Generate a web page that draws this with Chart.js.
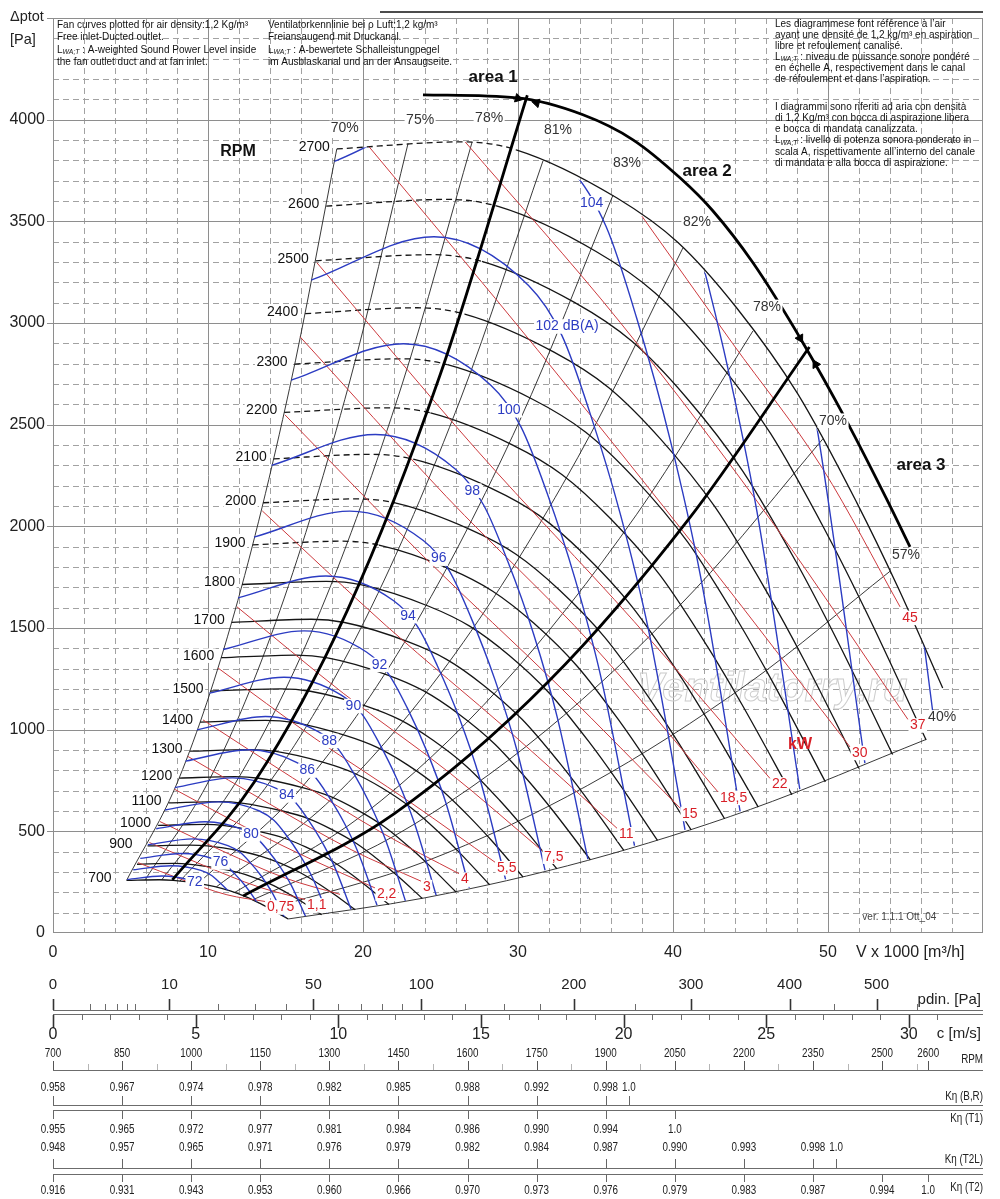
<!DOCTYPE html>
<html>
<head>
<meta charset="utf-8">
<title>Fan curves</title>
<script src="https://cdn.jsdelivr.net/npm/chart.js@4.4.1/dist/chart.umd.min.js"></script>
<style>
  html, body { margin: 0; padding: 0; background: #fff; }
  #wrapper-fan-chart { width: 1000px; height: 1199px; }
</style>
</head>
<body>
<div id="wrapper-fan-chart"><canvas id="fan-chart" width="1000" height="1199"></canvas></div>
<script>
// ---------------- axis ticks ----------------
const flowTickLabels = [0, 10, 20, 30, 40, 50];
const pressTickLabels = [0, 500, 1000, 1500, 2000, 2500, 3000, 3500, 4000];

// ---------------- fan curves: V x 1000 m3/h / dp Pa ----------------
const rpmSpeeds = [700, 800, 900, 1000, 1100, 1200, 1300, 1400, 1500, 1600, 1700,
  1800, 1900, 2000, 2100, 2200, 2300, 2400, 2500, 2600, 2700];
const rpmSpeedTags = [700, 900, 1000, 1100, 1200, 1300, 1400, 1500, 1600, 1700,
  1800, 1900, 2000, 2100, 2200, 2300, 2400, 2500, 2600, 2700];
const rpmFlow = [
  [4.75, 6.86, 7.75, 9.43, 10.45, 11.43, 12.46, 13.44, 14.14, 15.17],
  [5.42, 7.84, 8.85, 10.77, 11.95, 13.07, 14.24, 15.36, 16.16, 17.33],
  [6.10, 8.82, 9.96, 12.12, 13.44, 14.70, 16.02, 17.28, 18.18, 19.50],
  [6.78, 9.80, 11.07, 13.47, 14.93, 16.33, 17.80, 19.20, 20.20, 21.67],
  [7.46, 10.78, 12.17, 14.81, 16.43, 17.97, 19.58, 21.12, 22.22, 23.83],
  [8.14, 11.76, 13.28, 16.16, 17.92, 19.60, 21.36, 23.04, 24.24, 26.00],
  [8.81, 12.74, 14.39, 17.51, 19.41, 21.23, 23.14, 24.96, 26.26, 28.17],
  [9.49, 13.72, 15.49, 18.85, 20.91, 22.87, 24.92, 26.88, 28.28, 30.33],
  [10.17, 14.70, 16.60, 20.20, 22.40, 24.50, 26.70, 28.80, 30.30, 32.50],
  [10.85, 15.68, 17.71, 21.55, 23.89, 26.13, 28.48, 30.72, 32.32, 34.67],
  [11.53, 16.66, 18.81, 22.89, 25.39, 27.77, 30.26, 32.64, 34.34, 36.83],
  [12.20, 17.64, 19.92, 24.24, 26.88, 29.40, 32.04, 34.56, 36.36, 39.00],
  [12.88, 18.62, 21.03, 25.59, 28.37, 31.03, 33.82, 36.48, 38.38, 41.17],
  [13.56, 19.60, 22.13, 26.93, 29.87, 32.67, 35.60, 38.40, 40.40, 43.33],
  [14.24, 20.58, 23.24, 28.28, 31.36, 34.30, 37.38, 40.32, 42.42, 45.50],
  [14.92, 21.56, 24.35, 29.63, 32.85, 35.93, 39.16, 42.24, 44.44, 47.67],
  [15.59, 22.54, 25.45, 30.97, 34.35, 37.57, 40.94, 44.16, 46.46, 49.83],
  [16.27, 23.52, 26.56, 32.32, 35.84, 39.20, 42.72, 46.08, 48.48, 52.00],
  [16.95, 24.50, 27.67, 33.67, 37.33, 40.83, 44.50, 48.00, 50.50, 54.17],
  [17.63, 25.48, 28.77, 35.01, 38.83, 42.47, 46.28, 49.92, 52.52, 56.33],
  [18.31, 26.46, 29.88, 36.36, 40.32, 44.10, 48.06, 51.84, 54.54, 57.40],
];
const rpmPress = [
  [259, 262, 259, 243, 228, 207, 178, 142, 114, 69],
  [338, 342, 338, 317, 298, 270, 233, 186, 149, 90],
  [428, 432, 428, 402, 377, 342, 294, 235, 188, 114],
  [529, 534, 528, 496, 466, 422, 364, 291, 232, 140],
  [640, 646, 639, 600, 564, 510, 440, 352, 281, 170],
  [762, 769, 761, 714, 671, 607, 524, 419, 335, 202],
  [894, 902, 893, 838, 787, 713, 614, 491, 393, 237],
  [1037, 1046, 1036, 972, 913, 827, 713, 570, 456, 275],
  [1190, 1201, 1189, 1116, 1048, 949, 818, 654, 523, 316],
  [1354, 1367, 1353, 1270, 1192, 1080, 931, 744, 595, 360],
  [1528, 1543, 1527, 1433, 1346, 1219, 1051, 840, 672, 406],
  [1714, 1729, 1712, 1607, 1509, 1367, 1178, 942, 753, 455],
  [1909, 1927, 1908, 1791, 1681, 1523, 1312, 1049, 839, 507],
  [2116, 2135, 2114, 1984, 1863, 1687, 1454, 1163, 930, 562],
  [2332, 2354, 2330, 2187, 2054, 1860, 1603, 1282, 1025, 619],
  [2560, 2583, 2558, 2401, 2254, 2041, 1760, 1407, 1125, 680],
  [2798, 2824, 2795, 2624, 2464, 2231, 1923, 1538, 1230, 743],
  [3046, 3075, 3044, 2857, 2683, 2429, 2094, 1674, 1339, 809],
  [3306, 3336, 3303, 3100, 2911, 2636, 2272, 1817, 1453, 878],
  [3575, 3608, 3572, 3353, 3149, 2851, 2458, 1965, 1571, 949],
  [3856, 3891, 3852, 3616, 3396, 3075, 2650, 2119, 1695, 1205],
];
const unstableFromRpm = 1900;

// ---------------- efficiency lines ----------------
const effLabels = ['70%', '75%', '78%', '81%', '83%', '82%', '78%', '70%', '57%', '40%'];
const effFlow = [
  [4.75, 8.14, 11.70, 15.26, 18.31],
  [5.94, 10.18, 14.64, 19.10, 22.91],
  [7.01, 12.02, 17.27, 22.53, 27.04],
  [8.19, 14.05, 20.19, 26.34, 31.61],
  [9.37, 16.06, 23.08, 30.11, 36.13],
  [10.54, 18.06, 25.97, 33.87, 40.64],
  [11.71, 20.07, 28.85, 37.64, 45.16],
  [12.88, 22.08, 31.74, 41.40, 49.68],
  [14.00, 24.00, 34.50, 45.00, 54.00],
  [15.17, 24.00, 34.50, 45.00, 56.33],
];
const effPress = [
  [259, 762, 1574, 2678, 3856],
  [261, 767, 1586, 2700, 3884],
  [261, 769, 1587, 2700, 3890],
  [255, 750, 1549, 2636, 3797],
  [244, 717, 1481, 2520, 3629],
  [227, 665, 1376, 2340, 3369],
  [199, 585, 1209, 2057, 2961],
  [163, 480, 992, 1688, 2431],
  [120, 351, 726, 1235, 1779],
  [69, 173, 357, 608, 952],
];

// ---------------- area boundaries ----------------
const areaLineFlow = [
  [7.7, 13, 19, 25, 30.6],
  [12.27, 22, 32, 41, 48.8],
];
const areaLinePress = [
  [261, 744, 1588, 2750, 4120],
  [182, 586, 1239, 2034, 2882],
];
const areaArcFlow = [23.87, 29.94, 34.19, 37.42, 40.45, 42.58, 45.16, 48.39, 51.23, 53.81, 55.29];
const areaArcPress = [4122, 4107, 4024, 3901, 3714, 3551, 3296, 2902, 2514, 2130, 1899];
const arrowFlow = [30.0, 31.2, 48.2, 49.2];
const arrowPress = [4105, 4083, 2925, 2797];

// ---------------- sound power LwA (dB(A)) ----------------
const blueLevels = [72, 74, 76, 78, 80, 82, 84, 86, 88, 90, 92, 94, 96, 98, 100, 102, 104, 106, 108, 110];
const blueTagged = [72, 76, 80, 84, 86, 88, 90, 92, 94, 96, 98, 100, 102, 104];
const blueFlow = [
  [4.77, 7.03, 8.78, 9.39, 9.91, 10.48, 11.00, 11.67],
  [5.18, 7.64, 9.54, 10.21, 10.77, 11.39, 11.95, 12.68],
  [5.63, 8.31, 10.37, 11.10, 11.71, 12.38, 12.99, 13.79],
  [6.12, 9.04, 11.28, 12.07, 12.73, 13.46, 14.13, 14.99],
  [6.66, 9.82, 12.26, 13.12, 13.84, 14.63, 15.36, 16.30],
  [7.23, 10.67, 13.32, 14.25, 15.04, 15.90, 16.69, 17.71],
  [7.86, 11.60, 14.48, 15.49, 16.35, 17.28, 18.14, 19.25],
  [8.55, 12.61, 15.74, 16.84, 17.77, 18.79, 19.72, 20.92],
  [9.29, 13.71, 17.11, 18.31, 19.32, 20.42, 21.44, 22.74],
  [10.10, 14.90, 18.60, 19.90, 21.00, 22.20, 23.30, 24.72],
  [10.98, 16.20, 20.22, 21.63, 22.83, 24.13, 25.33, 26.87],
  [11.93, 17.61, 21.98, 23.51, 24.81, 26.23, 27.53, 29.21],
  [12.97, 19.14, 23.89, 25.56, 26.97, 28.51, 29.93, 31.75],
  [14.10, 20.80, 25.97, 27.78, 29.32, 31.00, 32.53, 34.51],
  [15.33, 22.61, 28.23, 30.20, 31.87, 33.69, 35.36, 37.52],
  [16.66, 24.58, 30.68, 32.83, 34.64, 36.62, 38.44, 40.78],
  [18.11, 26.72, 33.35, 35.69, 37.66, 39.81, 41.78, 44.33],
  [19.69, 29.04, 36.26, 38.79, 40.93, 43.27, 45.42, 48.18],
  [21.40, 31.57, 39.41, 42.16, 44.49, 47.04, 49.37, 52.38],
  [23.26, 34.32, 42.84, 45.83, 48.37, 51.13, 53.66, 56.93],
];
const bluePress = [
  [263, 280, 261, 241, 209, 168, 121, 41],
  [311, 331, 308, 284, 247, 199, 143, 49],
  [367, 391, 364, 336, 292, 235, 170, 58],
  [434, 463, 430, 397, 346, 278, 200, 68],
  [513, 547, 508, 469, 408, 328, 237, 81],
  [605, 645, 600, 554, 482, 387, 280, 95],
  [715, 763, 709, 655, 570, 458, 330, 113],
  [845, 901, 838, 773, 673, 541, 390, 133],
  [999, 1065, 990, 914, 796, 639, 461, 157],
  [1180, 1258, 1170, 1080, 940, 755, 545, 186],
  [1394, 1486, 1382, 1276, 1111, 892, 644, 220],
  [1648, 1756, 1634, 1508, 1312, 1054, 761, 260],
  [1947, 2075, 1930, 1782, 1551, 1246, 899, 307],
  [2300, 2452, 2281, 2105, 1832, 1472, 1062, 363],
  [2718, 2898, 2695, 2488, 2165, 1739, 1255, 428],
  [3211, 3424, 3184, 2939, 2558, 2055, 1483, 506],
  [3794, 4045, 3762, 3473, 3023, 2428, 1753, 598],
  [4483, 4780, 4445, 4103, 3571, 2869, 2071, 707],
  [5297, 5648, 5253, 4848, 4220, 3389, 2447, 835],
  [6259, 6673, 6206, 5729, 4986, 4005, 2891, 987],
];

// ---------------- shaft power (kW) ----------------
const redLabels = ['0,75', '1,1', '', '2,2', '3', '4', '5,5', '7,5', '11', '15', '18,5', '22', '30', '37', '45'];
const redFlow = [
  [5.48, 8.35, 11.22, 13.68],
  [6.22, 9.73, 13.25, 16.26],
  [6.90, 10.97, 15.03, 18.52],
  [7.84, 12.37, 16.89, 20.77],
  [8.69, 13.96, 19.23, 23.74],
  [9.68, 15.46, 21.24, 26.19],
  [10.65, 16.90, 23.16, 28.52],
  [11.87, 18.76, 25.65, 31.55],
  [13.50, 21.51, 29.52, 36.39],
  [14.97, 23.89, 32.81, 40.45],
  [15.94, 25.38, 34.81, 42.90],
  [17.03, 27.26, 37.49, 46.26],
  [20.40, 31.26, 42.11, 51.42],
  [26.60, 36.60, 46.59, 55.16],
  [38.00, 43.83, 49.66, 54.65],
];
const redPress = [
  [346, 262, 188, 155],
  [445, 332, 227, 165],
  [548, 402, 269, 190],
  [707, 522, 354, 222],
  [869, 635, 410, 255],
  [1048, 763, 492, 292],
  [1303, 957, 637, 348],
  [1604, 1177, 784, 405],
  [2076, 1510, 986, 515],
  [2548, 1853, 1202, 615],
  [2932, 2146, 1416, 694],
  [3296, 2382, 1532, 760],
  [3866, 2868, 1834, 915],
  [3890, 3002, 2001, 1050],
  [3525, 2901, 2283, 1604],
];

// ---------------- side scales under the chart ----------------
const velocityAtRightEdge = 32.6;   // c [m/s] at V = 60
const rpmAtLeftEdge = 700;
const rpmAtRightEdge = 2719;
const pdinMajor = [0, 10, 50, 100, 200, 300, 400, 500];
const pdinMinor = [1, 2, 3, 4, 5, 20, 30, 40, 60, 70, 80, 90, 125, 150, 175, 250, 450, 550];
const velocityMajor = [0, 5, 10, 15, 20, 25, 30];
const rpmRowSpeeds = [700, 850, 1000, 1150, 1300, 1450, 1600, 1750, 1900, 2050, 2200, 2350, 2500, 2600];
const rpmRowMinor = [775, 925, 1075, 1225, 1375, 1525, 1675, 1825, 1975, 2125, 2275, 2425, 2575];
const kBRSpeeds = [700, 850, 1000, 1150, 1300, 1450, 1600, 1750, 1900, 1950];
const kBRValues = ['0.958', '0.967', '0.974', '0.978', '0.982', '0.985', '0.988', '0.992', '0.998', '1.0'];
const kT1Speeds = [700, 850, 1000, 1150, 1300, 1450, 1600, 1750, 1900, 2050];
const kT1Values = ['0.955', '0.965', '0.972', '0.977', '0.981', '0.984', '0.986', '0.990', '0.994', '1.0'];
const kT2LSpeeds = [700, 850, 1000, 1150, 1300, 1450, 1600, 1750, 1900, 2050, 2200, 2350, 2400];
const kT2LValues = ['0.948', '0.957', '0.965', '0.971', '0.976', '0.979', '0.982', '0.984', '0.987', '0.990', '0.993', '0.998', '1.0'];
const kT2Speeds = [700, 850, 1000, 1150, 1300, 1450, 1600, 1750, 1900, 2050, 2200, 2350, 2500, 2600];
const kT2Values = ['0.916', '0.931', '0.943', '0.953', '0.960', '0.966', '0.970', '0.973', '0.976', '0.979', '0.983', '0.987', '0.994', '1.0'];

// ---------------- styles ----------------
const SANS = '"Liberation Sans", Arial, Helvetica, sans-serif';
const BLUE = '#2c3cc2';
const RED_LINE = '#cc3a3e';
const RED_TEXT = '#d81f27';
const effTagOffset = [[8, -21], [12, -23], [17, -24], [15, -31], [14, -32], [14, -26], [14, -24], [10, -18], [16, -16], [16, -22]];
const arrowRotation = [104, 284, 151, 331];

const pairs = (xs, ys) => xs.map((v, j) => ({ x: v, y: ys[j] }));

function tag(ctx, text, x, y, font, color, align, bg) {
	ctx.font = font;
	const w = ctx.measureText(text).width;
	const h = parseFloat(font.match(/([\d.]+)px/)[1]);
	const left = align === 'center' ? x - w / 2 : align === 'right' ? x - w : x;
	if (bg !== false) {
		ctx.fillStyle = '#fff';
		ctx.fillRect(left - 1.5, y - h * 0.52, w + 3, h * 1.04);
	}
	ctx.fillStyle = color;
	ctx.textAlign = align;
	ctx.textBaseline = 'middle';
	ctx.fillText(text, x, y);
}

function narrowText(ctx, text, x, y, size, align, color) {
	ctx.save();
	ctx.translate(x, y);
	ctx.scale(0.82, 1);
	ctx.font = `${size}px ${SANS}`;
	ctx.fillStyle = color || '#222';
	ctx.textAlign = align;
	ctx.textBaseline = 'middle';
	ctx.fillText(text, 0, 0);
	ctx.restore();
}

function richLine(ctx, parts, x, y, size) {
	let cx = x;
	ctx.textAlign = 'left';
	ctx.textBaseline = 'middle';
	ctx.fillStyle = '#111';
	parts.forEach(([t, sub]) => {
		ctx.font = sub ? `italic ${size * 0.68}px ${SANS}` : `${size}px ${SANS}`;
		ctx.fillText(t, cx, sub ? y + size * 0.22 : y);
		cx += ctx.measureText(t).width;
	});
}

// the operating field: top speed curve, 40% line, lowest speed curve, 70% line
function fanOutline(chart) {
	const { ctx, scales: { x, y } } = chart;
	const top = rpmFlow.length - 1;
	const low = effFlow.length - 1;
	const pts = [];
	rpmFlow[top].forEach((v, j) => pts.push([v, rpmPress[top][j]]));
	for (let j = effFlow[low].length - 1; j >= 0; j--) pts.push([effFlow[low][j], effPress[low][j]]);
	for (let j = rpmFlow[0].length - 2; j >= 0; j--) pts.push([rpmFlow[0][j], rpmPress[0][j]]);
	for (let j = 1; j < effFlow[0].length; j++) pts.push([effFlow[0][j], effPress[0][j]]);
	ctx.beginPath();
	pts.forEach(([v, p], k) => {
		const px = x.getPixelForValue(v), py = y.getPixelForValue(p);
		if (k) ctx.lineTo(px, py); else ctx.moveTo(px, py);
	});
	ctx.closePath();
}

function drawGrid(chart) {
	const { ctx, chartArea: a, scales: { x, y } } = chart;
	ctx.save();
	ctx.lineWidth = 1;
	ctx.strokeStyle = '#a2a2a2';
	ctx.setLineDash([6, 4]);
	ctx.beginPath();
	for (let v = 2; v < 60; v += 2) {
		if (v % 10 === 0) continue;
		const px = Math.round(x.getPixelForValue(v)) + 0.5;
		ctx.moveTo(px, a.top);
		ctx.lineTo(px, a.bottom);
	}
	for (let p = 100; p < 4500; p += 100) {
		if (p % 500 === 0) continue;
		const py = Math.round(y.getPixelForValue(p)) + 0.5;
		ctx.moveTo(a.left, py);
		ctx.lineTo(a.right, py);
	}
	ctx.stroke();
	ctx.setLineDash([]);
	ctx.strokeStyle = '#8e8e8e';
	ctx.beginPath();
	for (let v = 10; v < 60; v += 10) {
		const px = Math.round(x.getPixelForValue(v)) + 0.5;
		ctx.moveTo(px, a.top);
		ctx.lineTo(px, a.bottom);
	}
	for (let p = 500; p <= 4000; p += 500) {
		const py = Math.round(y.getPixelForValue(p)) + 0.5;
		ctx.moveTo(a.left - 6, py);
		ctx.lineTo(a.right, py);
	}
	ctx.moveTo(a.left - 6, a.top + 0.5);
	ctx.lineTo(a.left, a.top + 0.5);
	ctx.stroke();
	ctx.strokeRect(a.left + 0.5, a.top + 0.5, a.width - 1, a.height - 1);
	ctx.strokeStyle = '#111';
	ctx.lineWidth = 1.3;
	ctx.beginPath();
	ctx.moveTo(380, a.top - 6);
	ctx.lineTo(a.right, a.top - 6);
	ctx.stroke();

	// watermark
	ctx.font = `italic bold 40px ${SANS}`;
	ctx.textAlign = 'center';
	ctx.textBaseline = 'middle';
	ctx.strokeStyle = '#cdcdcd';
	ctx.lineWidth = 1;
	ctx.strokeText('Ventilatorry.ru', x.getPixelForValue(46.4), y.getPixelForValue(1195));
	ctx.restore();
}

function drawCurveLabels(chart) {
	const { ctx, scales: { x, y } } = chart;
	const px = v => x.getPixelForValue(v);
	const py = p => y.getPixelForValue(p);
	const f14 = `14px ${SANS}`;
	ctx.save();

	rpmSpeeds.forEach((n, i) => {
		if (!rpmSpeedTags.includes(n)) return;
		const gap = n <= 900 ? 15 : 7;
		tag(ctx, String(n), px(rpmFlow[i][0]) - gap, py(rpmPress[i][0]) - 2, f14, '#111', 'right');
	});

	effLabels.forEach((t, i) => {
		const k = effFlow[i].length - 1;
		tag(ctx, t, px(effFlow[i][k]) + effTagOffset[i][0], py(effPress[i][k]) + effTagOffset[i][1], f14, '#333', 'center');
	});

	blueLevels.forEach((level, i) => {
		if (!blueTagged.includes(level)) return;
		const t = 0.6;
		const lx = px(blueFlow[i][2]) * (1 - t) + px(blueFlow[i][3]) * t;
		const ly = py(bluePress[i][2]) * (1 - t) + py(bluePress[i][3]) * t;
		if (level === 102) tag(ctx, '102 dB(A)', lx - 13, ly + 11, f14, BLUE, 'left');
		else tag(ctx, String(level), lx, ly, f14, BLUE, 'center');
	});

	redLabels.forEach((t, i) => {
		if (!t) return;
		const k = redFlow[i].length - 1;
		const ex = px(redFlow[i][k]), ey = py(redPress[i][k]);
		if (t === '45') tag(ctx, t, ex + 10, ey + 11, f14, RED_TEXT, 'center');
		else tag(ctx, t, ex + 2, ey + 6, f14, RED_TEXT, 'left');
	});

	tag(ctx, 'RPM', px(11.94), py(3842), `bold 16px ${SANS}`, '#111', 'center', false);
	tag(ctx, 'kW', px(48.2), py(925), `bold 16px ${SANS}`, RED_TEXT, 'center', false);
	tag(ctx, 'area 1', px(28.4), py(4210), `bold 17px ${SANS}`, '#111', 'center', false);
	tag(ctx, 'area 2', px(42.2), py(3745), `bold 17px ${SANS}`, '#111', 'center', false);
	tag(ctx, 'area 3', px(56.0), py(2300), `bold 17px ${SANS}`, '#111', 'center', false);
	tag(ctx, 'ver. 1.1.1 Ott_04', px(54.6), py(79), `10px ${SANS}`, '#444', 'center', false);
	ctx.restore();
}

function drawTexts(chart) {
	const { ctx, chartArea: a, scales: { x, y } } = chart;
	ctx.save();
	ctx.fillStyle = '#222';
	ctx.font = `16px ${SANS}`;
	ctx.textBaseline = 'middle';
	ctx.textAlign = 'right';
	pressTickLabels.forEach(p => ctx.fillText(String(p), a.left - 8, y.getPixelForValue(p)));
	ctx.textAlign = 'center';
	flowTickLabels.forEach(v => ctx.fillText(String(v), x.getPixelForValue(v), a.bottom + 20));
	ctx.textAlign = 'left';
	ctx.fillText('V x 1000 [m\u00b3/h]', a.right - 127, a.bottom + 20);
	ctx.font = `14.5px ${SANS}`;
	ctx.fillText('\u0394ptot', 10, 17);
	ctx.fillText('[Pa]', 10, 40);

	const L = [['L', false], ['WA;T', true]];
	const en = [
		[['Fan curves plotted for air density:1,2 Kg/m\u00b3', false]],
		[['Free inlet-Ducted outlet.', false]],
		[...L, [' : A-weighted Sound Power Level inside', false]],
		[['the fan outlet duct and at fan inlet.', false]],
	];
	const de = [
		[['Ventilatorkennlinie bei \u03c1 Luft:1,2 kg/m\u00b3', false]],
		[['Freiansaugend mit Druckanal.', false]],
		[...L, [' : A-bewertete Schalleistungpegel', false]],
		[['im Ausblaskanal und an der Ansaugseite.', false]],
	];
	const fr = [
		[['Les diagrammese font r\u00e9f\u00e9rence \u00e0 l\u2019air', false]],
		[['ayant une densit\u00e9 de 1,2 kg/m\u00b3 en aspiration', false]],
		[['libre et refoulement canalis\u00e9.', false]],
		[...L, [' : niveau de puissance sonore pond\u00e9r\u00e9', false]],
		[['en \u00e9chelle A, respectivement dans le canal', false]],
		[['de r\u00e9foulement et dans l\u2019aspiration.', false]],
	];
	const it = [
		[['I diagrammi sono riferiti ad aria con densit\u00e0', false]],
		[['di 1,2 Kg/m\u00b3 con bocca di aspirazione libera', false]],
		[['e bocca di mandata canalizzata.', false]],
		[...L, [' : livello di potenza sonora ponderato in', false]],
		[['scala A, rispettivamente all\u2019interno del canale', false]],
		[['di mandata e alla bocca di aspirazione.', false]],
	];
	en.forEach((parts, i) => richLine(ctx, parts, 57, 25 + 12.4 * i, 10));
	de.forEach((parts, i) => richLine(ctx, parts, 268, 25 + 12.4 * i, 10));
	fr.forEach((parts, i) => richLine(ctx, parts, 775, 24.5 + 10.85 * i, 10));
	it.forEach((parts, i) => richLine(ctx, parts, 775, 107 + 11.2 * i, 10));
	ctx.restore();
}

function drawBottomScales(chart) {
	const { ctx, chartArea: a } = chart;
	const cs = chart.scales.cAxis, rs = chart.scales.rpmAxis;
	const b = a.bottom;
	const snap = v => Math.round(v) + 0.5;
	const pdinX = v => cs.getPixelForValue(Math.sqrt(v / 0.6)); // pdin = 1.2 c^2 / 2
	const seg = (x1, y1, x2, y2) => {
		ctx.beginPath();
		ctx.moveTo(x1, y1);
		ctx.lineTo(x2, y2);
		ctx.stroke();
	};
	ctx.save();

	// dynamic pressure
	ctx.strokeStyle = '#6c6c6c';
	ctx.lineWidth = 1;
	seg(a.left, b + 77.5, a.right, b + 77.5);
	pdinMinor.forEach(v => seg(snap(pdinX(v)), b + 71, snap(pdinX(v)), b + 77));
	ctx.strokeStyle = '#333';
	ctx.lineWidth = 1.6;
	pdinMajor.forEach(v => seg(snap(pdinX(v)), b + 66, snap(pdinX(v)), b + 77));
	pdinMajor.forEach(v => tag(ctx, String(v), pdinX(v), b + 52, `15px ${SANS}`, '#222', 'center', false));
	tag(ctx, 'pdin. [Pa]', a.right - 2, b + 67, `15px ${SANS}`, '#222', 'right', false);

	// outlet velocity
	ctx.strokeStyle = '#6c6c6c';
	ctx.lineWidth = 1;
	seg(a.left, b + 81.5, a.right, b + 81.5);
	for (let v = 1; v <= 31; v++) {
		if (v % 5 === 0) continue;
		seg(snap(cs.getPixelForValue(v)), b + 82, snap(cs.getPixelForValue(v)), b + 87);
	}
	ctx.strokeStyle = '#333';
	ctx.lineWidth = 1.6;
	velocityMajor.forEach(v => seg(snap(cs.getPixelForValue(v)), b + 82, snap(cs.getPixelForValue(v)), b + 95));
	velocityMajor.forEach(v => tag(ctx, String(v), cs.getPixelForValue(v), b + 102, `16px ${SANS}`, '#222', 'center', false));
	tag(ctx, 'c [m/s]', a.right - 2, b + 101, `15px ${SANS}`, '#222', 'right', false);

	// speed row
	ctx.lineWidth = 1;
	ctx.strokeStyle = '#6c6c6c';
	seg(a.left, b + 137.5, a.right, b + 137.5);
	ctx.strokeStyle = '#b5b5b5';
	rpmRowMinor.forEach(v => seg(snap(rs.getPixelForValue(v)), b + 131, snap(rs.getPixelForValue(v)), b + 137));
	ctx.strokeStyle = '#555';
	rpmRowSpeeds.forEach(v => {
		seg(snap(rs.getPixelForValue(v)), b + 128, snap(rs.getPixelForValue(v)), b + 137);
		narrowText(ctx, String(v), rs.getPixelForValue(v), b + 121, 12, 'center');
	});
	narrowText(ctx, 'RPM', a.right, b + 127, 12, 'right');

	// efficiency correction rows
	const kRow = (speeds, values, lineY, t0, t1, labelY, title, titleY) => {
		ctx.strokeStyle = '#6c6c6c';
		seg(a.left, b + lineY, a.right, b + lineY);
		ctx.strokeStyle = '#666';
		speeds.forEach((v, i) => {
			const px = snap(rs.getPixelForValue(v));
			seg(px, b + t0, px, b + t1);
			narrowText(ctx, values[i], rs.getPixelForValue(v), b + labelY, 12, 'center');
		});
		narrowText(ctx, title, a.right, b + titleY, 12, 'right');
	};
	kRow(kBRSpeeds, kBRValues, 172.5, 163, 172, 155, 'K\u03b7 (B,R)', 164);
	kRow(kT1Speeds, kT1Values, 177.5, 178, 186, 197, 'K\u03b7 (T1)', 186);
	kRow(kT2LSpeeds, kT2LValues, 235.5, 226, 235, 215, 'K\u03b7 (T2L)', 227);
	kRow(kT2Speeds, kT2Values, 241.5, 242, 249, 258, 'K\u03b7 (T2)', 255);
	ctx.restore();
}

const fanDecor = {
	id: 'fanDecor',
	beforeDatasetsDraw(chart) {
		drawGrid(chart);
	},
	beforeDatasetDraw(chart, args) {
		if (!chart.data.datasets[args.index].clipToFan) return;
		chart.ctx.save();
		fanOutline(chart);
		chart.ctx.clip();
	},
	afterDatasetDraw(chart, args) {
		if (chart.data.datasets[args.index].clipToFan) chart.ctx.restore();
	},
	afterDatasetsDraw(chart) {
		drawCurveLabels(chart);
	},
	afterDraw(chart) {
		drawTexts(chart);
		drawBottomScales(chart);
	},
};

// ---------------- datasets ----------------
const datasets = [];

effFlow.forEach((f, i) => {
	datasets.push({
		label: 'eta ' + effLabels[i],
		data: pairs(f, effPress[i]),
		borderColor: '#222',
		borderWidth: 0.9,
		order: 4,
	});
});

rpmSpeeds.forEach((n, i) => {
	datasets.push({
		label: n + ' RPM',
		data: pairs(rpmFlow[i], rpmPress[i]),
		borderColor: '#151515',
		borderWidth: 1.3,
		order: 3,
		segment: {
			borderDash: (ctx) => (n >= unstableFromRpm && ctx.p1DataIndex <= 2 ? [6, 4] : undefined),
		},
	});
});

redFlow.forEach((f, i) => {
	datasets.push({
		label: (redLabels[i] || '1,5') + ' kW',
		data: pairs(f, redPress[i]),
		borderColor: RED_LINE,
		borderWidth: 1,
		order: 2,
	});
});

blueLevels.forEach((level, i) => {
	datasets.push({
		label: level + ' dB(A)',
		data: pairs(blueFlow[i], bluePress[i]),
		borderColor: BLUE,
		borderWidth: 1.4,
		order: 1,
		clipToFan: true,
	});
});

areaLineFlow.forEach((f, i) => {
	datasets.push({
		label: 'area line ' + (i + 1),
		data: pairs(f, areaLinePress[i]),
		borderColor: '#000',
		borderWidth: 2.8,
		order: 0,
	});
});

datasets.push({
	label: 'area limit',
	data: pairs(areaArcFlow, areaArcPress),
	borderColor: '#000',
	borderWidth: 2.8,
	order: 0,
});

datasets.push({
	label: 'arrows',
	data: pairs(arrowFlow, arrowPress),
	showLine: false,
	pointStyle: 'triangle',
	pointRadius: 5,
	pointRotation: arrowRotation,
	pointBackgroundColor: '#000',
	pointBorderColor: '#000',
	pointBorderWidth: 1,
	order: 0,
});

const ctx = document.getElementById('fan-chart').getContext('2d');
const fanChart = new Chart(ctx, {
	type: 'line',
	data: { datasets: datasets },
	options: {
		responsive: false,
		animation: false,
		devicePixelRatio: 1,
		events: [],
		layout: { padding: { left: 53, top: 18, right: 17, bottom: 266 } },
		elements: {
			point: { radius: 0 },
			line: { cubicInterpolationMode: 'monotone', fill: false },
		},
		scales: {
			x: { type: 'linear', min: 0, max: 60, display: false },
			y: { type: 'linear', min: 0, max: 4500, display: false },
			cAxis: { type: 'linear', axis: 'x', position: 'bottom', min: 0, max: velocityAtRightEdge, display: false },
			rpmAxis: { type: 'linear', axis: 'x', position: 'bottom', min: rpmAtLeftEdge, max: rpmAtRightEdge, display: false },
		},
		plugins: {
			legend: { display: false },
			tooltip: { enabled: false },
		},
	},
	plugins: [fanDecor],
});
</script>
</body>
</html>
